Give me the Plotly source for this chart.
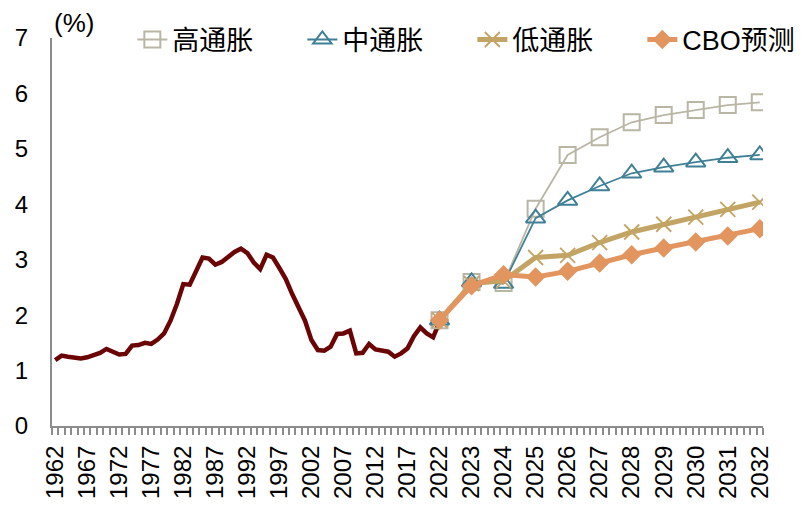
import plotly.graph_objects as go

# ---------------- data ----------------
hist_years = list(range(1962, 2023))
hist_values = [1.19, 1.27, 1.25, 1.23, 1.22, 1.24, 1.27, 1.32, 1.39, 1.34,
               1.29, 1.30, 1.45, 1.46, 1.50, 1.48, 1.56, 1.67, 1.90, 2.20,
               2.56, 2.55, 2.82, 3.04, 3.02, 2.91, 2.96, 3.05, 3.14, 3.20,
               3.12, 2.95, 2.83, 3.09, 3.04, 2.85, 2.65, 2.38, 2.12, 1.90,
               1.55, 1.37, 1.36, 1.43, 1.66, 1.67, 1.72, 1.31, 1.32, 1.48,
               1.38, 1.35, 1.34, 1.25, 1.31, 1.40, 1.62, 1.78, 1.67, 1.60,
               1.88]

fc_years = list(range(2022, 2033))
high = [1.91, 2.60, 2.58, 3.92, 4.89, 5.21, 5.48, 5.61, 5.70, 5.79, 5.84]
mid = [1.91, 2.60, 2.57, 3.75, 4.07, 4.33, 4.56, 4.67, 4.76, 4.84, 4.89]
low = [1.91, 2.57, 2.62, 3.04, 3.08, 3.31, 3.50, 3.64, 3.77, 3.91, 4.04]
cbo = [1.91, 2.53, 2.73, 2.69, 2.79, 2.94, 3.09, 3.21, 3.32, 3.43, 3.56]

tick_years = [1962, 1967, 1972, 1977, 1982, 1987, 1992, 1997, 2002, 2007,
              2012, 2017, 2022, 2023, 2024, 2025, 2026, 2027, 2028, 2029,
              2030, 2031, 2032]

series_names = ["高通胀", "中通胀", "低通胀", "CBO预测"]


# history: one category per year, labelled every 5 years;
# forecast: one labelled slot per year
def pos(year):
    if year <= 2022:
        return (year - 1962) / 5.0
    return 12 + (year - 2022)


FONT = "Liberation Sans, Arial, Noto Sans CJK SC, sans-serif"

fig = go.Figure()

fig.add_trace(go.Scatter(
    x=[pos(y) for y in hist_years], y=hist_values, mode="lines",
    line=dict(color="#6B0505", width=4.5), showlegend=False,
    hoverinfo="skip"))

fx = [pos(y) for y in fc_years]

fig.add_trace(go.Scatter(
    x=fx, y=high, mode="lines+markers", name=series_names[0],
    line=dict(color="#B9B6A4", width=1.8),
    marker=dict(symbol="square-open", size=16, color="#B9B6A4",
                line=dict(width=2, color="#B9B6A4"))))

fig.add_trace(go.Scatter(
    x=fx, y=mid, mode="lines+markers", name=series_names[1],
    line=dict(color="#3F8096", width=1.8),
    marker=dict(symbol="triangle-up-open", size=17, color="#3F8096",
                line=dict(width=2, color="#3F8096"))))

fig.add_trace(go.Scatter(
    x=fx, y=low, mode="lines+markers", name=series_names[2],
    line=dict(color="#C2A464", width=5),
    marker=dict(symbol="x-thin", size=15, color="#C2A464",
                line=dict(width=1.8, color="#C2A464"))))

fig.add_trace(go.Scatter(
    x=fx, y=cbo, mode="lines+markers", name=series_names[3],
    line=dict(color="#E2955E", width=5),
    marker=dict(symbol="diamond", size=15, color="#E2955E",
                line=dict(width=0))))

fig.update_layout(
    width=810, height=511,
    margin=dict(l=44, r=55, t=30, b=93, autoexpand=False),
    paper_bgcolor="white", plot_bgcolor="white",
    font=dict(family=FONT, size=24, color="#000000"),
    showlegend=True,
    legend=dict(orientation="h", x=0.113, xanchor="left", y=0.995,
                yanchor="middle", font=dict(size=27, family=FONT),
                bgcolor="rgba(0,0,0,0)", entrywidth=125,
                entrywidthmode="pixels", tracegroupgap=0),
    annotations=[dict(text="(%)", x=0, xref="paper", xanchor="left",
                      y=1.0, yref="paper", yanchor="bottom", yshift=-2,
                      showarrow=False, font=dict(size=26, family=FONT))],
)

fig.update_xaxes(
    range=[-0.1, 22.1], tickmode="array",
    tickvals=[pos(y) for y in tick_years],
    ticktext=[str(y) for y in tick_years],
    tickangle=-90, ticks="", showgrid=False, zeroline=False,
    showline=True, linecolor="#8C8C8C", linewidth=2,
    ticklabelstandoff=8,
    tickfont=dict(size=24, family=FONT),
    minor=dict(ticks="outside", tick0=-0.1, dtick=0.2, ticklen=7,
               tickcolor="#8C8C8C", tickwidth=1.5, showgrid=False),
)

fig.update_yaxes(
    range=[0, 7], tickvals=[0, 1, 2, 3, 4, 5, 6, 7], ticks="",
    showgrid=False, zeroline=False, showline=True,
    linecolor="#8C8C8C", linewidth=2, ticklabelstandoff=17,
    tickfont=dict(size=24, family=FONT),
)

fig.write_html("out.html")
